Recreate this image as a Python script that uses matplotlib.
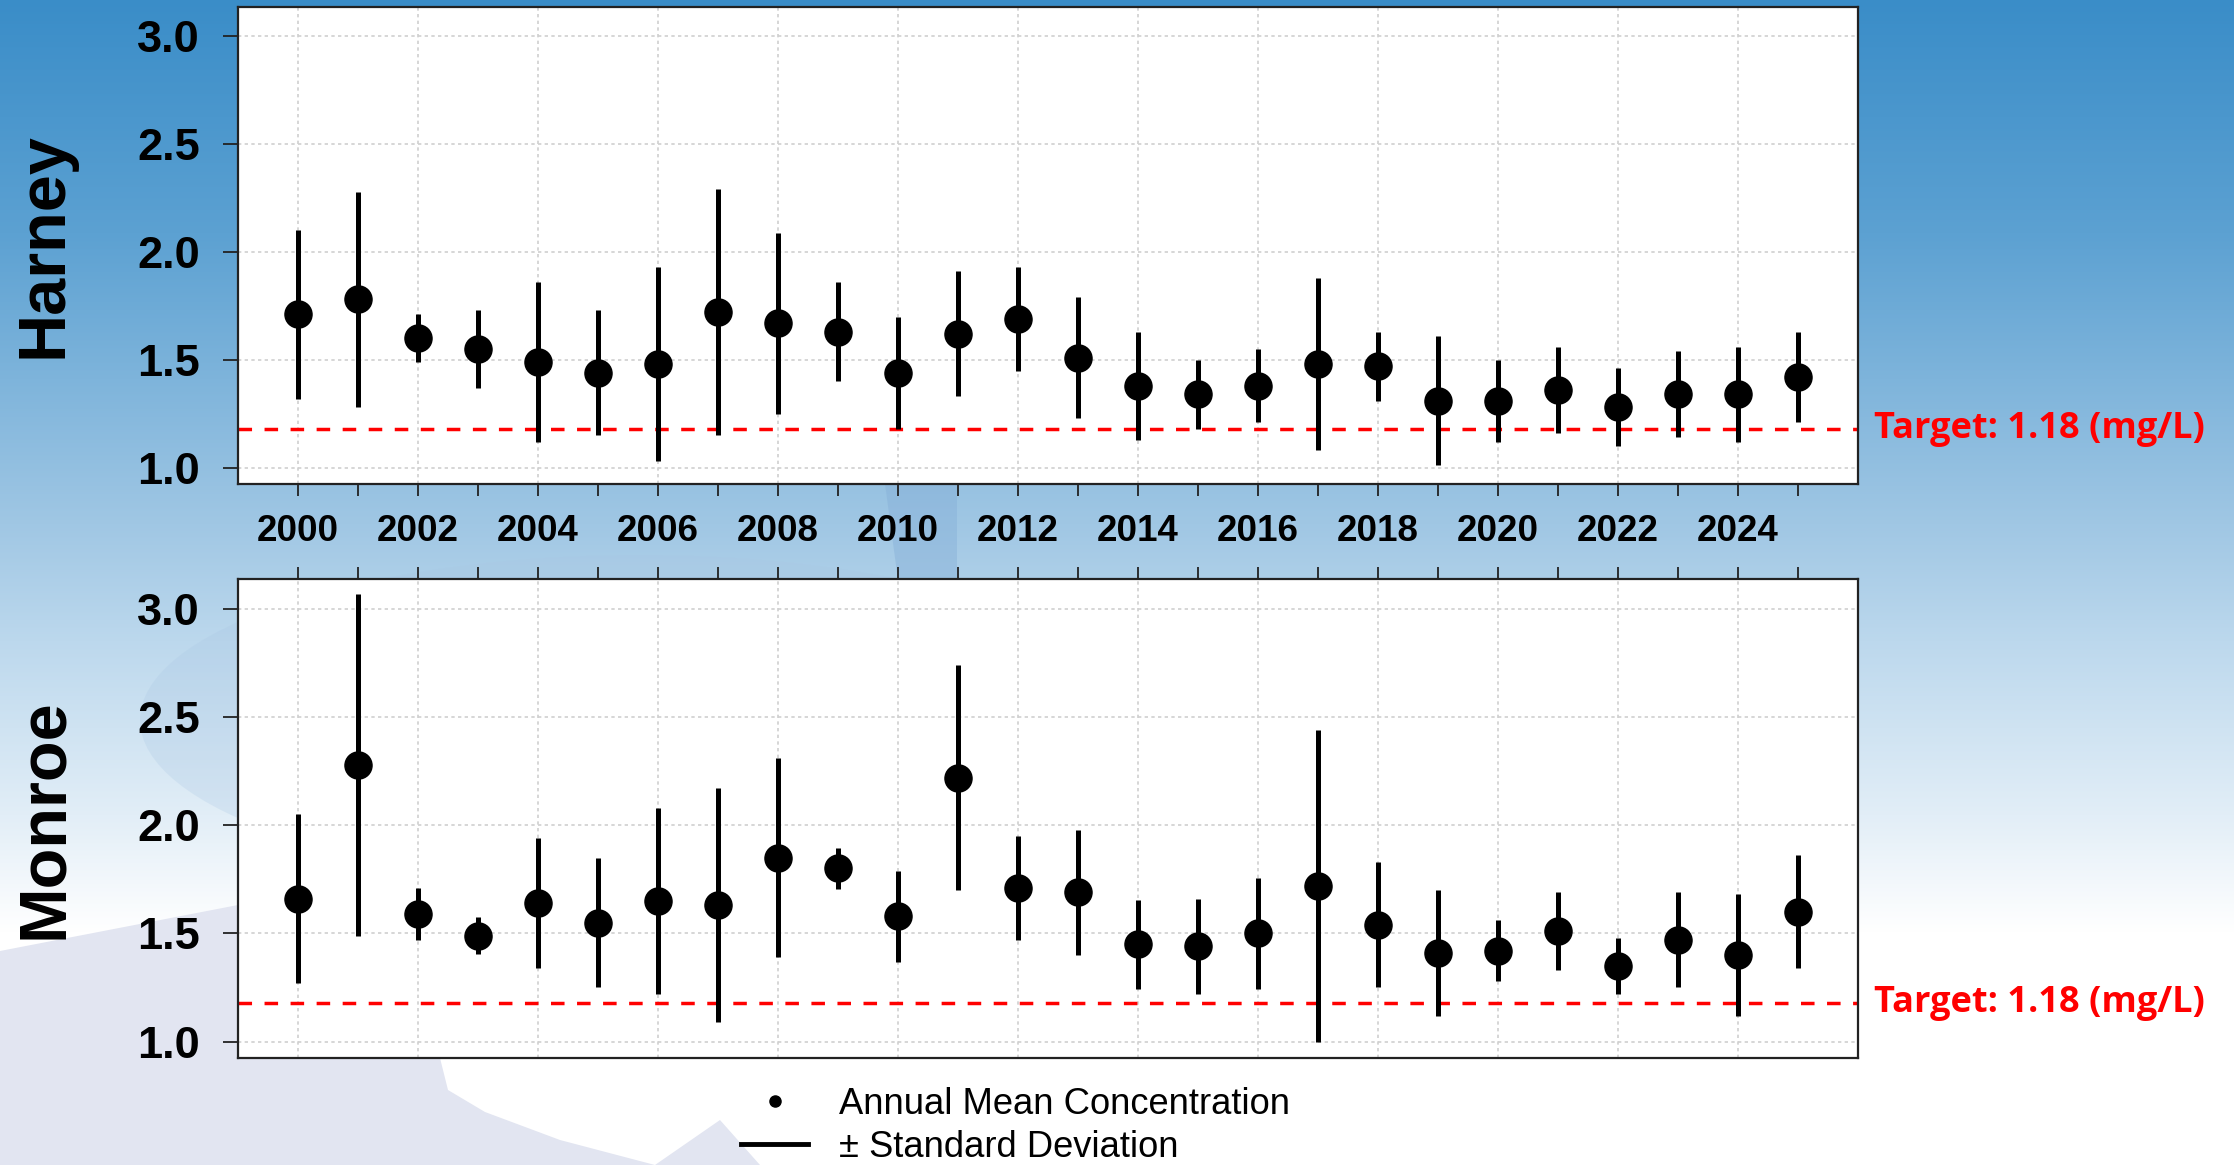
import numpy as np
import matplotlib
matplotlib.use("Agg")
from matplotlib import pyplot as plt
from matplotlib.lines import Line2D
from matplotlib.patches import Polygon, Ellipse

# ---- data ----
years = list(range(2000, 2026))

harney_mean = [1.71, 1.78, 1.60, 1.55, 1.49, 1.44, 1.48, 1.72, 1.67, 1.63, 1.44, 1.62, 1.69,
               1.51, 1.38, 1.34, 1.38, 1.48, 1.47, 1.31, 1.31, 1.36, 1.28, 1.34, 1.34, 1.42]
harney_sd = [0.39, 0.50, 0.11, 0.18, 0.37, 0.29, 0.45, 0.57, 0.42, 0.23, 0.26, 0.29, 0.24,
             0.28, 0.25, 0.16, 0.17, 0.40, 0.16, 0.30, 0.19, 0.20, 0.18, 0.20, 0.22, 0.21]

monroe_mean = [1.66, 2.28, 1.59, 1.49, 1.64, 1.55, 1.65, 1.63, 1.85, 1.80, 1.58, 2.22, 1.71,
               1.69, 1.45, 1.44, 1.50, 1.72, 1.54, 1.41, 1.42, 1.51, 1.35, 1.47, 1.40, 1.60]
monroe_sd = [0.39, 0.79, 0.12, 0.085, 0.30, 0.30, 0.43, 0.54, 0.46, 0.093, 0.21, 0.52, 0.24,
             0.29, 0.205, 0.22, 0.255, 0.72, 0.29, 0.29, 0.14, 0.18, 0.13, 0.22, 0.28, 0.26]

sites = ["Harney", "Monroe"]
target = 1.18
target_label = "Target: 1.18 (mg/L)"
y_ticks = [1.0, 1.5, 2.0, 2.5, 3.0]
label_years = list(range(2000, 2025, 2))
other_years = list(range(2001, 2026, 2))

W, H = 2234, 1165
fig = plt.figure(figsize=(W / 100, H / 100), dpi=100)

# ---- slide-like background ----
bg = fig.add_axes([0, 0, 1, 1], zorder=-10)
bg.set_xlim(0, W)
bg.set_ylim(H, 0)
bg.axis("off")
stops = [0.0, 0.2, 0.45, 0.55, 0.7, 0.8, 1.0]
cols = np.array([[58, 141, 200], [92, 161, 210], [160, 199, 228], [188, 216, 237],
                 [226, 238, 247], [255, 255, 255], [255, 255, 255]]) / 255
t = np.linspace(0, 1, H)
grad = np.stack([np.interp(t, stops, cols[:, i]) for i in range(3)], axis=-1)
grad = np.repeat(grad[:, None, :], 20, axis=1)
bg.imshow(grad, extent=[0, W, H, 0], aspect="auto")
bg.add_patch(Ellipse((640, 720), 1000, 330, color="#a9c6e3", alpha=0.25, lw=0))
bg.add_patch(Polygon([(885, 484), (957, 484), (957, 580), (898, 580)],
                     color="#86b0d8", alpha=0.45, lw=0))
bg.add_patch(Polygon([(0, 951), (238, 905), (238, 1058), (440, 1058), (448, 1090), (485, 1112),
                      (560, 1140), (655, 1165), (0, 1165)], color="#e2e5f1", lw=0))
bg.add_patch(Polygon([(655, 1165), (720, 1120), (760, 1165)], color="#e2e5f1", lw=0))

# ---- panels ----
left, width = 238 / W, (1858 - 238) / W
pos = [[left, 1 - 484 / H, width, (484 - 6.5) / H],
       [left, 1 - 1058 / H, width, (1058 - 579) / H]]
means = [harney_mean, monroe_mean]
sds = [harney_sd, monroe_sd]

for i, site in enumerate(sites):
    ax = fig.add_axes(pos[i])
    ax.set_facecolor("white")
    m = np.array(means[i])
    s = np.array(sds[i])
    ax.vlines(years, m - s, m + s, color="black", lw=3.6, zorder=3)
    ax.plot(years, m, "o", color="black", markersize=19.5, zorder=4)
    ax.axhline(target, color="red", lw=2.5, ls=(0, (3.9, 3.6)), zorder=2)

    ax.set_xlim(1999, 2026)
    ax.set_ylim(0.924, 3.138)
    ax.set_yticks(y_ticks)
    ax.set_yticklabels([f"{v:.1f}" for v in y_ticks], fontsize=32.5, fontweight="bold",
                       family="Liberation Sans")
    ax.set_xticks(label_years)
    ax.set_xticks(other_years, minor=True)
    ax.set_xticklabels([str(y) for y in label_years], fontsize=26.5, fontweight="bold",
                       family="Liberation Sans")
    ax.grid(True, which="major", color="#d0d0d0", lw=1.2, ls=(0, (2, 2)), zorder=0)
    ax.tick_params(axis="y", length=10.5, width=1.3, pad=17, color="#222222")
    ax.tick_params(axis="x", which="both", length=8.6, width=1.3, color="#222222", pad=13)
    if i == 1:
        ax.tick_params(axis="x", which="both", bottom=False, top=True,
                       labelbottom=False, labeltop=False)
    for sp in ax.spines.values():
        sp.set_linewidth(1.6)
        sp.set_color("#222222")

    ax.annotate(target_label, xy=(1.0, target), xycoords=("axes fraction", "data"),
                xytext=(11.5, 0), textcoords="offset points", ha="left", va="center",
                color="red", fontsize=26, fontweight="bold", family="Open Sans",
                annotation_clip=False)
    fig.text(45 / W, (pos[i][1] + pos[i][3] / 2), site, rotation=90, ha="center",
             va="center", fontsize=48, fontweight="bold", family="Liberation Sans")

    if i == 1:
        handles = [Line2D([], [], marker="o", ls="none", color="black", markersize=8),
                   Line2D([], [], color="black", lw=3.5)]
        ax.legend(handles, ["Annual Mean Concentration", "\u00b1 Standard Deviation"],
                  loc="upper left", bbox_to_anchor=(741 / W, 1 - 1087 / H),
                  bbox_transform=fig.transFigure, frameon=False,
                  prop={"family": "Liberation Sans", "size": 26.2},
                  handlelength=1.85, handletextpad=0.85, labelspacing=0.22,
                  borderpad=0, borderaxespad=0)

fig.savefig("out.png", dpi=100)
